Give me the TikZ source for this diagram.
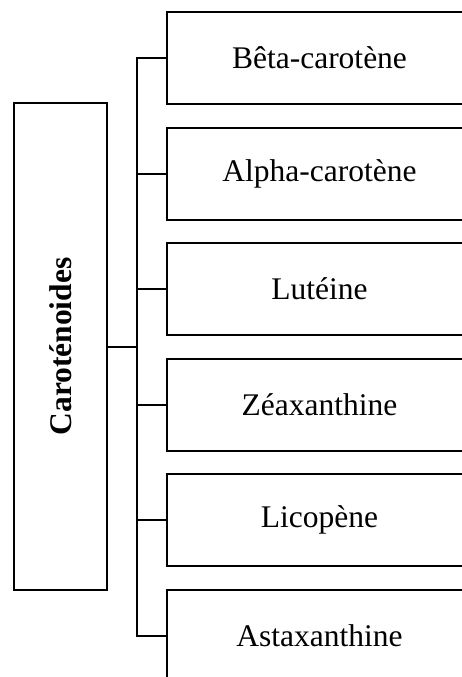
\documentclass[tikz,border=0pt]{standalone}
\usepackage{fontspec}
\setmainfont{Liberation Serif}
\usetikzlibrary{positioning}

\begin{document}
\begin{tikzpicture}[
    x=0.5pt, y=-0.5pt,
    line width=1pt,
    every node/.style={font=\fontsize{15.75}{18}\selectfont},
    kindbox/.style={rectangle,draw,inner sep=0pt,minimum width=152.5pt,minimum height=46pt}
]
    \useasboundingbox (0,0) rectangle (462,677);
    \clip (0,0) rectangle (462,677);
    \node[rectangle,draw,inner sep=0pt,minimum width=46.5pt,minimum height=243.5pt,
          font=\fontsize{15.75}{18}\selectfont\bfseries] (caro) at (60.5,346.5)
          {\rotatebox{90}{Caroténoides}};
    \node[kindbox] (beta)  at (319.5,58)    {Bêta-carotène};
    \node[kindbox] (alpha) at (319.5,173.5) {Alpha-carotène};
    \node[kindbox] (lut)   at (319.5,289)   {Lutéine};
    \node[kindbox] (zea)   at (319.5,404.5) {Zéaxanthine};
    \node[kindbox] (lico)  at (319.5,520)   {Licopène};
    \node[kindbox] (asta)  at (319.5,635.5) {Astaxanthine};
    \coordinate (trunk) at (137,0);
    \draw (beta.west)-- (beta.west -| trunk)--(asta.west -| trunk)--(asta.west);
    \draw (caro.east)--(caro.east -| trunk);
    \draw (alpha.west)--(alpha.west -| trunk);
    \draw (lut.west)--(lut.west -| trunk);
    \draw (zea.west)--(zea.west -| trunk);
    \draw (lico.west)--(lico.west -| trunk);
\end{tikzpicture}
\end{document}
